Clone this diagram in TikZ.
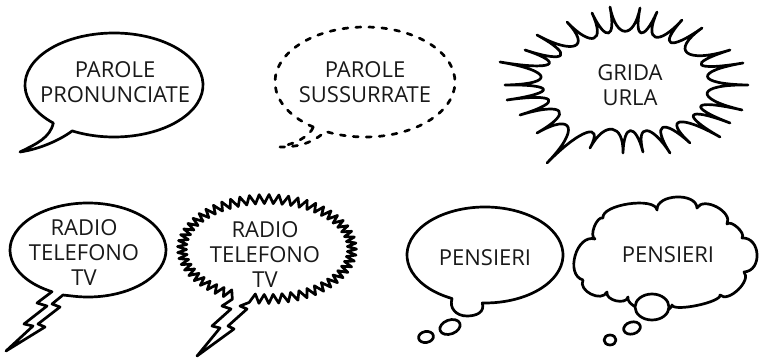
\documentclass[tikz,border=0pt]{standalone}
\usepackage{fontspec}
\setmainfont{Open Sans}
\usetikzlibrary{calc}
\tikzset{
  ink/.style={draw=black, line width=2.7pt, line join=round, line cap=round},
  dashink/.style={ink, dash pattern=on 5pt off 8pt},
  words/.style={font=\fontsize{22}{25}\selectfont, align=center, inner sep=0pt, text=black!90},
}
\begin{document}
\begin{tikzpicture}[x=1pt,y=-1pt]
\useasboundingbox (0,0) rectangle (759,358);

% 1: parole pronunciate
\draw[ink] ($(114,85)+(133:89 and 52)$) arc[start angle=133, end angle=478, x radius=89, y radius=52]
  .. controls (60,140) and (40,149) .. (20,152)
  .. controls (36,144) and (50,138) .. cycle;
\node[words] (t1) at (115,82.5) {PAROLE\\PRONUNCIATE};

% 2: parole sussurrate (dashed)
\draw[dashink] ($(365,82)+(125:90 and 55)$) arc[start angle=125, end angle=476, x radius=90, y radius=55]
  .. controls (310,145) and (295,147) .. (280,147)
  .. controls (296,143) and (309,137) .. cycle;
\node[words] (t2) at (365,82.5) {PAROLE\\SUSSURRATE};

% 3: grida urla (spiky)
\coordinate (gc) at (625,83);
\draw[ink] (505,85)
  \foreach \x/\y [remember=\x as \px (initially 505), remember=\y as \py (initially 85)] in
  {500/62, 525/50, 537/35, 567/22, 592/13, 610/7, 640/8, 657/12, 682/20, 702/28,
   730/50, 743/63, 748/85, 742/110, 730/123, 720/137, 690/143, 670/153, 643/152,
   623/153, 590/148, 547/163, 537/133, 520/115, 507/100, 505/85}
  { .. controls ($(gc)!0.58!(\px,\py)$) and ($(gc)!0.58!(\x,\y)$) .. (\x,\y) };
\node[words] (t3) at (630,85) {GRIDA\\URLA};

% 4: radio telefono tv (ellipse with lightning)
\draw[ink] ($(88,250)+(117.5:78 and 47)$) arc[start angle=117.5, end angle=459.6, x radius=78, y radius=47]
  -- (63,295) -- (52,304) -- (60,307) -- (38,324) -- (45,327) -- (6,351)
  -- (33,326) -- (24,324) -- (47,306) -- (37,303) -- cycle;
\node[words] (t4) at (84,253) {RADIO\\TELEFONO\\TV};

% 5: radio telefono tv (zigzag outline with lightning)
\draw[ink] plot[variable=\k, samples=111, domain=0:110]
  ({267+(85+4.5*(1-2*mod(round(\k),2)))*cos(112.8+\k*3.17)}, {249+(50+4.5*(1-2*mod(round(\k),2)))*sin(112.8+\k*3.17)})
  -- (240,306) -- (247,309) -- (228,326) -- (234,329) -- (197,356)
  -- (220,328) -- (212,326) -- (231,309) -- (222,306) -- cycle;
\node[words] (t5) at (265,255) {RADIO\\TELEFONO\\TV};

% 6: pensieri (ellipse with bump and bubbles)
\draw[ink] ($(485,255)+(115:78 and 48)$) arc[start angle=115, end angle=452, x radius=78, y radius=48]
  .. controls (485,312) and (477,316) .. (467,316)
  .. controls (456,316) and (449,308) .. cycle;
\draw[ink, rotate around={20:(450,327)}] (450,327) ellipse[x radius=10.5, y radius=7];
\draw[ink, rotate around={10:(426,337)}] (426,337) ellipse[x radius=7.5, y radius=5.5];
\node[words] (t6) at (485,258) {PENSIERI};

% 7: pensieri (cloud)
\draw[ink] (583,280)
  \foreach \x/\y/\f [remember=\x as \px (initially 583), remember=\y as \py (initially 280)] in
  {595/239/0.45, 603/218/0.3, 657/210/0.25, 697/208/0.4, 727/224/0.4, 742/238/0.3,
   744/272/0.55, 720/295/0.35, 672/305/0.15, 628/297/0.3, 607/292/0.4, 583/280/0.45}
  { .. controls ($(\px,\py)!\f!90:(\x,\y)$) and ($(\x,\y)!\f!-90:(\px,\py)$) .. (\x,\y) };
\draw[ink, fill=white] (652,307) ellipse[x radius=17, y radius=13];
\draw[ink, rotate around={15:(632,328)}] (632,328) ellipse[x radius=8.5, y radius=6];
\draw[ink] (610,340) ellipse[x radius=6, y radius=5];
\node[words] (t7) at (668,255) {PENSIERI};
\end{tikzpicture}
\end{document}
